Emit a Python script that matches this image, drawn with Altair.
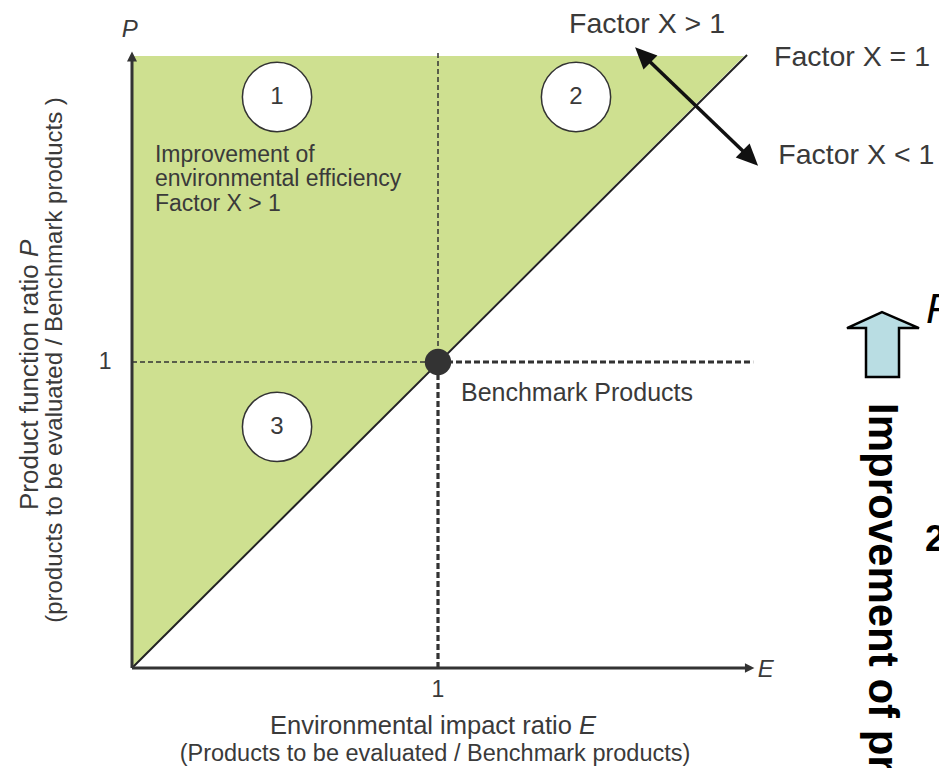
import altair as alt
import pandas as pd

# ---------------- data (ratio units: E = environmental impact ratio, P = product function ratio)
region_E = [0.0, 2.0]          # green region: P >= E, P <= 2
region_P_low = [0.0, 2.0]
region_P_high = [2.0, 2.0]

diag_E = [0.0, 2.01]           # Factor X = 1 line
diag_P = [0.0, 2.003]

bench_E = [1.0]                # benchmark product
bench_P = [1.0]

zone_labels = ["1", "2", "3"]
zone_E = [0.474, 1.451, 0.474]
zone_P = [1.866, 1.866, 0.788]

tick_text = ["1", "1"]
tick_E = [1.0, -0.088]
tick_P = [-0.072, 1.0]

factor_text = ["Factor X > 1", "Factor X = 1", "Factor X < 1"]
factor_E = [1.428, 2.098, 2.112]
factor_P = [2.075, 1.967, 1.647]

# double arrow (direction of Factor X)
arrow_E = [1.644, 2.046]
arrow_P = [2.029, 1.641]

# ---------------- scales
XS = alt.Scale(domain=[-0.40523, 2.63725], nice=False, zero=False)
YS = alt.Scale(domain=[-0.32680, 2.15686], nice=False, zero=False)
INK = "#3a3a3a"
FONT = "Liberation Sans"


def base(df):
    return alt.Chart(df).encode(
        x=alt.X("E:Q", scale=XS, axis=None),
        y=alt.Y("P:Q", scale=YS, axis=None),
    )


def seg(rows):
    return pd.DataFrame(rows, columns=["E", "P", "E2", "P2"])


def txt(rows, **kw):
    df = pd.DataFrame(rows, columns=["E", "P", "label"])
    opts = dict(font=FONT, color=INK)
    opts.update(kw)
    return base(df).mark_text(**opts).encode(text="label:N")


# green region
region = base(pd.DataFrame({"E": region_E, "P": region_P_low, "P2": region_P_high})).mark_area(
    color="#cee090", opacity=1
).encode(y2="P2:Q")

# diagonal
diag = base(seg([[diag_E[0], diag_P[0], diag_E[1], diag_P[1]]])).mark_rule(
    color="#222222", strokeWidth=2
).encode(x2="E2:Q", y2="P2:Q")

# dashed guides
thin_dash = base(seg([[0, 1, 1, 1], [1, 1, 1, 2.012]])).mark_rule(
    color="#333333", strokeWidth=1.5, strokeDash=[5, 3]
).encode(x2="E2:Q", y2="P2:Q")
thick_dash = base(seg([[1, 1, 2.03, 1], [1, 0, 1, 1]])).mark_rule(
    color="#333333", strokeWidth=3.2, strokeDash=[6, 3]
).encode(x2="E2:Q", y2="P2:Q")

# axes with arrows
axes = base(seg([[0, 0, 0, 2.0], [0, 0, 2.02, 0]])).mark_rule(
    color="#333333", strokeWidth=3
).encode(x2="E2:Q", y2="P2:Q")
HEAD = "M0,0L-1,-0.5L-1,0.5Z"
y_head = base(pd.DataFrame({"E": [0.0], "P": [2.015]})).mark_point(
    shape=HEAD, size=400, filled=True, fill="#333333", strokeWidth=0, opacity=1, angle=270
)
x_head = base(pd.DataFrame({"E": [2.034], "P": [0.0]})).mark_point(
    shape=HEAD, size=360, filled=True, fill="#333333", strokeWidth=0, opacity=1, angle=0
)

# Factor X double arrow
arrow_line = base(seg([[arrow_E[0] + 0.03, arrow_P[0] - 0.03, arrow_E[1] - 0.03, arrow_P[1] + 0.03]])).mark_rule(
    color="#111111", strokeWidth=3.5
).encode(x2="E2:Q", y2="P2:Q")
BIGHEAD = "M0,0L-1,-0.45L-1,0.45Z"
head_up = base(pd.DataFrame({"E": [arrow_E[0]], "P": [arrow_P[0]]})).mark_point(
    shape=BIGHEAD, size=1900, filled=True, fill="#111111", strokeWidth=0, opacity=1, angle=225
)
head_down = base(pd.DataFrame({"E": [arrow_E[1]], "P": [arrow_P[1]]})).mark_point(
    shape=BIGHEAD, size=1900, filled=True, fill="#111111", strokeWidth=0, opacity=1, angle=45
)

# benchmark dot
bench = base(pd.DataFrame({"E": bench_E, "P": bench_P})).mark_point(
    shape="circle", size=700, filled=True, fill="#333333", strokeWidth=0, opacity=1
)

# zone circles
zones_df = pd.DataFrame({"E": zone_E, "P": zone_P, "label": zone_labels})
zone_circles = base(zones_df).mark_point(
    shape="circle", size=4800, filled=True, fill="white", stroke="#333333", strokeWidth=1.5, opacity=1
)
zone_text = base(zones_df).mark_text(font=FONT, fontSize=24, color=INK, baseline="middle").encode(
    text="label:N"
)

# texts
ticks = txt([[tick_E[i], tick_P[i], tick_text[i]] for i in range(2)], fontSize=23, baseline="middle")
axis_p = txt([[-0.007, 2.085, "P"]], fontSize=24, fontStyle="italic", baseline="middle")
axis_e = txt([[2.045, -0.008, "E"]], fontSize=24, fontStyle="italic", baseline="middle", align="left")

improve = txt(
    [[0.075, 1.654, "Improvement of\nenvironmental efficiency\nFactor X  > 1"]],
    fontSize=23, lineBreak="\n", lineHeight=24.5, align="left", baseline="alphabetic",
)
bench_lbl = txt([[1.075, 0.873, "Benchmark Products"]], fontSize=25, align="left", baseline="alphabetic")
factors = txt(
    [[factor_E[i], factor_P[i], factor_text[i]] for i in range(3)],
    fontSize=28.5, align="left", baseline="alphabetic",
)

# axis titles
x_title1 = txt([[0.4510, -0.1895, "Environmental impact ratio"]], fontSize=25.5, align="left", baseline="middle")
x_title1i = txt([[1.4608, -0.1895, "E"]], fontSize=25.5, align="left", baseline="middle", fontStyle="italic")
x_title2 = txt([[0.9902, -0.2810, "(Products to be evaluated / Benchmark products)"]],
               fontSize=23.5, align="center", baseline="middle")
y_title1 = txt([[-0.3333, 0.5163, "Product function ratio"]], fontSize=26, align="left",
               baseline="middle", angle=270)
y_title1i = txt([[-0.3333, 1.3431, "P"]], fontSize=26, align="left", baseline="middle",
                angle=270, fontStyle="italic")
y_title2 = txt([[-0.2516, 1.0065, "(products to be evaluated / Benchmark products )"]],
               fontSize=24, align="center", baseline="middle", angle=270)

# right-hand fragment
BLOCK = "M0,0L3.7,1.6L1.7,1.6L1.7,6.5L-1.6,6.5L-1.6,1.6L-3.5,1.6Z"
block_arrow = base(pd.DataFrame({"E": [2.451], "P": [1.163]})).mark_point(
    shape=BLOCK, size=400, filled=True, fill="#b9dde3", stroke="#000000", strokeWidth=2.5, opacity=1
)
right_p = txt([[2.595, 1.127, "P"]], fontSize=42, fontStyle="italic", color="#000000",
              align="left", baseline="alphabetic")
right_2 = txt([[2.624, 0.418, "2"]], fontSize=36, fontWeight="bold", color="#000000",
              align="center", baseline="middle")
right_txt = txt([[2.408, 0.866, "Improvement of product function ratio"]], fontSize=42,
                fontWeight="bold", color="#000000", align="left", baseline="alphabetic", angle=90)

chart = alt.layer(
    region, thin_dash, thick_dash, diag, axes, y_head, x_head,
    arrow_line, head_up, head_down, bench, zone_circles, zone_text,
    ticks, axis_p, axis_e, improve, bench_lbl, factors,
    x_title1, x_title1i, x_title2, y_title1, y_title1i, y_title2,
    block_arrow, right_p, right_2, right_txt,
).properties(
    width=931, height=760, autosize=alt.AutoSizeParams(type="none"), padding=0,
    background="white",
).configure_view(stroke=None)

chart.save("out.html", embed_options={"renderer": "svg", "actions": False})
